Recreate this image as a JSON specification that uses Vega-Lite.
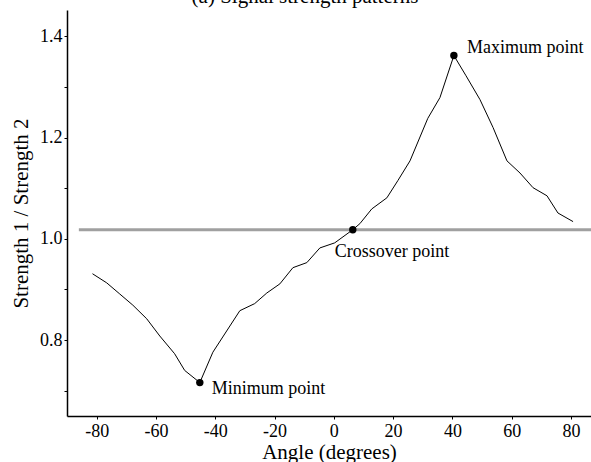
{
  "$schema": "https://vega.github.io/schema/vega-lite/v6.json",
  "autosize": "none",
  "width": 524,
  "height": 406,
  "padding": {"left": 67, "top": 10, "right": 0, "bottom": 46},
  "background": "white",
  "title": {
    "text": "(a) Signal strength patterns",
    "font": "Liberation Serif",
    "fontSize": 21,
    "fontWeight": "normal",
    "color": "black",
    "anchor": "middle",
    "baseline": "alphabetic",
    "offset": 0,
    "dy": 14,
    "dx": -24
  },
  "config": {
    "view": {"stroke": null},
    "axis": {
      "domainColor": "black",
      "domainWidth": 1.5,
      "tickColor": "black",
      "tickSize": 3,
      "grid": false,
      "labelFont": "Liberation Serif",
      "labelFontSize": 18,
      "labelColor": "black",
      "labelOverlap": false,
      "titleFont": "Liberation Serif",
      "titleFontSize": 21,
      "titleFontWeight": "normal",
      "titleColor": "black"
    }
  },
  "datasets": {
    "curve": [
      {"angle": -81.4, "ratio": 0.931},
      {"angle": -76.6, "ratio": 0.913},
      {"angle": -72.2, "ratio": 0.891},
      {"angle": -67.8, "ratio": 0.869},
      {"angle": -63.1, "ratio": 0.842},
      {"angle": -58.7, "ratio": 0.808},
      {"angle": -53.7, "ratio": 0.773},
      {"angle": -50.3, "ratio": 0.740},
      {"angle": -45.2, "ratio": 0.716},
      {"angle": -40.8, "ratio": 0.776},
      {"angle": -31.7, "ratio": 0.858},
      {"angle": -26.7, "ratio": 0.872},
      {"angle": -22.6, "ratio": 0.893},
      {"angle": -18.2, "ratio": 0.911},
      {"angle": -13.8, "ratio": 0.943},
      {"angle": -9.1, "ratio": 0.953},
      {"angle": -4.7, "ratio": 0.982},
      {"angle": 0.3, "ratio": 0.992},
      {"angle": 6.4, "ratio": 1.018},
      {"angle": 8.8, "ratio": 1.030},
      {"angle": 12.8, "ratio": 1.059},
      {"angle": 17.9, "ratio": 1.081},
      {"angle": 21.6, "ratio": 1.115},
      {"angle": 25.7, "ratio": 1.154},
      {"angle": 31.7, "ratio": 1.238},
      {"angle": 35.8, "ratio": 1.279},
      {"angle": 40.5, "ratio": 1.362},
      {"angle": 44.6, "ratio": 1.322},
      {"angle": 49.3, "ratio": 1.275},
      {"angle": 53.7, "ratio": 1.220},
      {"angle": 58.4, "ratio": 1.154},
      {"angle": 62.8, "ratio": 1.130},
      {"angle": 67.2, "ratio": 1.101},
      {"angle": 71.9, "ratio": 1.085},
      {"angle": 75.6, "ratio": 1.051},
      {"angle": 80.7, "ratio": 1.034}
    ],
    "marks": [
      {"angle": 40.5, "ratio": 1.362, "label": "Maximum point"},
      {"angle": 6.4, "ratio": 1.018, "label": "Crossover point"},
      {"angle": -45.2, "ratio": 0.716, "label": "Minimum point"}
    ],
    "ref": [{"start": -86, "end": 86.75, "level": 1.018}]
  },
  "layer": [
    {
      "data": {"name": "ref"},
      "mark": {"type": "rule", "color": "#a0a0a0", "strokeWidth": 3},
      "encoding": {
        "x": {"field": "start", "type": "quantitative"},
        "x2": {"field": "end"},
        "y": {"field": "level", "type": "quantitative"}
      }
    },
    {
      "data": {"name": "curve"},
      "mark": {"type": "line", "color": "black", "strokeWidth": 1},
      "encoding": {
        "x": {
          "field": "angle",
          "type": "quantitative",
          "scale": {"domain": [-90, 86.75], "nice": false, "zero": false},
          "axis": {
            "title": "Angle (degrees)",
            "values": [-80, -70, -60, -50, -40, -30, -20, -10, 0, 10, 20, 30, 40, 50, 60, 70, 80],
            "labelExpr": "abs(datum.value) % 20 == 0 ? replace(datum.label, '\u2212', '-') : ''",
            "labelPadding": 3,
            "titlePadding": 1
          }
        },
        "y": {
          "field": "ratio",
          "type": "quantitative",
          "scale": {"domain": [0.65, 1.452], "nice": false, "zero": false},
          "axis": {
            "title": "Strength 1 / Strength 2",
            "values": [0.7, 0.8, 0.9, 1.0, 1.1, 1.2, 1.3, 1.4],
            "labelExpr": "(round(datum.value * 10) % 2 == 0) ? format(datum.value, '.1f') : ''",
            "labelPadding": 2,
            "titlePadding": 8
          }
        }
      }
    },
    {
      "data": {"name": "marks"},
      "mark": {"type": "point", "filled": true, "color": "black", "size": 55, "opacity": 1},
      "encoding": {
        "x": {"field": "angle", "type": "quantitative"},
        "y": {"field": "ratio", "type": "quantitative"}
      }
    },
    {
      "data": {"name": "marks"},
      "transform": [{"filter": "datum.label == 'Maximum point'"}],
      "mark": {"type": "text", "align": "left", "baseline": "middle", "dx": 13, "dy": -8, "font": "Liberation Serif", "fontSize": 18, "color": "black"},
      "encoding": {
        "x": {"field": "angle", "type": "quantitative"},
        "y": {"field": "ratio", "type": "quantitative"},
        "text": {"field": "label"}
      }
    },
    {
      "data": {"name": "marks"},
      "transform": [{"filter": "datum.label == 'Crossover point'"}],
      "mark": {"type": "text", "align": "left", "baseline": "middle", "dx": -18, "dy": 22, "font": "Liberation Serif", "fontSize": 18, "color": "black"},
      "encoding": {
        "x": {"field": "angle", "type": "quantitative"},
        "y": {"field": "ratio", "type": "quantitative"},
        "text": {"field": "label"}
      }
    },
    {
      "data": {"name": "marks"},
      "transform": [{"filter": "datum.label == 'Minimum point'"}],
      "mark": {"type": "text", "align": "left", "baseline": "middle", "dx": 12, "dy": 6, "font": "Liberation Serif", "fontSize": 18, "color": "black"},
      "encoding": {
        "x": {"field": "angle", "type": "quantitative"},
        "y": {"field": "ratio", "type": "quantitative"},
        "text": {"field": "label"}
      }
    }
  ]
}
